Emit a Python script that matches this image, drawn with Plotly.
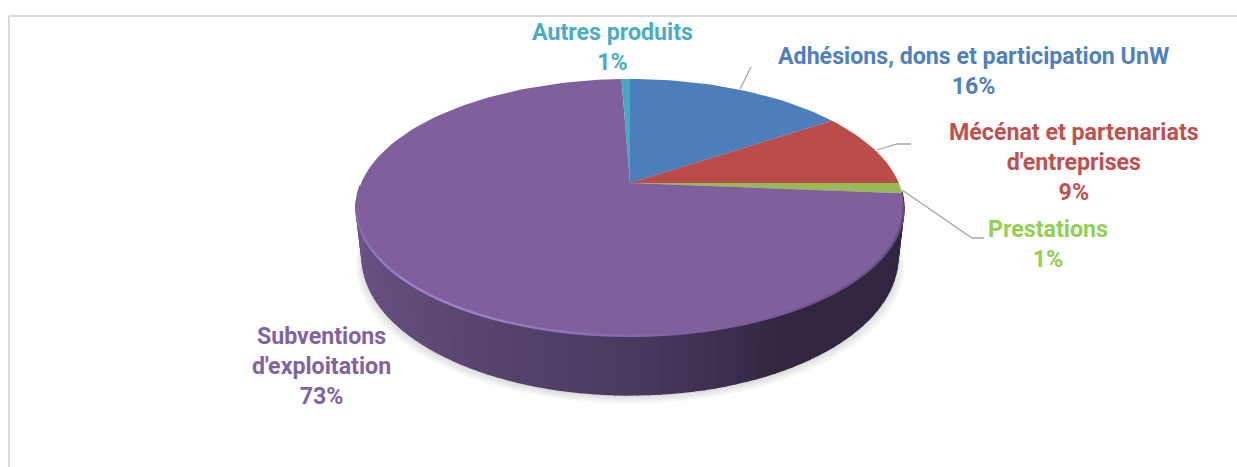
import math
import plotly.graph_objects as go

categories = ["Adhésions, dons et participation UnW", "Mécénat et partenariats d'entreprises",
              "Prestations", "Subventions d'exploitation", "Autres produits"]
values = [15.6, 9.4, 1.3, 73.1, 0.6]
top_colors = ["#4c7ebb", "#bb4c4a", "#98b954", "#7f609d", "#46aac4"]
label_colors = ["#4f81bd", "#c0504d", "#92d050", "#8064a2", "#4bacc6"]
label_lines = [["Adhésions, dons et participation UnW", "16%"],
               ["Mécénat et partenariats", "d'entreprises", "9%"],
               ["Prestations", "1%"],
               ["Subventions", "d'exploitation", "73%"],
               ["Autres produits", "1%"]]
label_pos = [(973, 71), (1074, 162), (1048, 244), (321, 366), (612, 47)]

W, H = 1237, 467
CX, CY = 630, 183
A, B, K = 268.8, 123.8, 0.19
D = 47.8
BOTTOM_SCALE = 0.978


def project(theta_deg):
    t = math.radians(theta_deg)
    u, v = math.sin(t), math.cos(t)
    w = 1 + K * v
    return CX + A * u / w, CY - B * v / w, w


def bottom(theta_deg):
    x, y, w = project(theta_deg)
    return CX + (x - CX) * BOTTOM_SCALE, y + D / w


def hexrgb(c):
    return tuple(int(c[i:i + 2], 16) for i in (1, 3, 5))


def mix(c1, c2, f):
    return "rgb(%d,%d,%d)" % tuple(a + (b - a) * f for a, b in zip(c1, c2))


def wall_color(theta):
    stops = [(90, (50, 38, 64)), (150, (50, 38, 64)), (180, (74, 58, 96)),
             (225, (96, 76, 120)), (270, (110, 86, 140)), (285, (110, 86, 140))]
    theta = max(90, min(285, theta))
    for (a, ca), (b, cb) in zip(stops, stops[1:]):
        if a <= theta <= b:
            return mix(ca, cb, (theta - a) / (b - a))
    return mix(stops[-1][1], stops[-1][1], 0)


fig = go.Figure()


def poly(xs, ys, color):
    fig.add_trace(go.Scatter(x=xs, y=ys, mode="lines", fill="toself", fillcolor=color,
                             line=dict(width=0), hoverinfo="skip", showlegend=False))


# soft shadow beneath the pie
for i in range(6):
    spread = 1.0 + i * 0.005
    off = 2 + i * 1.4
    pts = [bottom(a) for a in range(0, 361, 3)]
    poly([CX + (p[0] - CX) * spread for p in pts], [p[1] + off for p in pts], "rgba(0,0,0,0.025)")

# wall strips, then top wedges, all derived from values
edges = [0.0]
for val in values:
    edges.append(edges[-1] + val / sum(values) * 360)

STEP = 2
for i, val in enumerate(values):
    a0, a1 = edges[i], edges[i + 1]
    a = a0
    while a < a1:
        b = min(a + STEP, a1)
        if 94 <= (a + b) / 2 <= 268:
            p0, p1 = project(a), project(b)
            q0, q1 = bottom(a), bottom(b)
            c = wall_color((a + b) / 2)
            fig.add_trace(go.Scatter(x=[p0[0], p1[0], q1[0], q0[0], p0[0]],
                                     y=[p0[1], p1[1], q1[1], q0[1], p0[1]],
                                     mode="lines", fill="toself", fillcolor=c,
                                     line=dict(width=1.6, color=c), hoverinfo="skip", showlegend=False))
        a = b

for i, val in enumerate(values):
    a0, a1 = edges[i], edges[i + 1]
    n = max(2, int((a1 - a0) / 2))
    pts = [project(a0 + (a1 - a0) * j / n) for j in range(n + 1)]
    poly([CX] + [p[0] for p in pts] + [CX], [CY] + [p[1] for p in pts] + [CY], top_colors[i])

# bevel on the rim of the top face
RIM_BRIGHT = (158, 128, 205)
RIM_DARK = (96, 74, 124)
RIM_BASE = hexrgb("#7f609d")
for a in range(100, 262, 3):
    p0, p1 = project(a), project(a + 3)
    if a >= 165:
        f = 1 - abs(a - 215) / 48
        c = mix(RIM_BASE, RIM_BRIGHT, max(0, min(1, f * 1.3)))
    else:
        c = mix(RIM_DARK, RIM_BASE, max(0, (a - 100) / 65))
    fig.add_trace(go.Scatter(x=[p0[0], p1[0]], y=[p0[1], p1[1]], mode="lines",
                             line=dict(width=2.4, color=c), hoverinfo="skip", showlegend=False))

# frame and leader lines
shapes = [
    dict(type="line", x0=9, y0=16, x1=W, y1=16, line=dict(color="#d9d9d9", width=2)),
    dict(type="line", x0=9, y0=16, x1=9, y1=H, line=dict(color="#d9d9d9", width=2)),
    dict(type="path", path="M740,89 L751,67", line=dict(color="#a6a6a6", width=1.3)),
    dict(type="path", path="M877,150 L897,144 L911,144", line=dict(color="#a6a6a6", width=1.3)),
    dict(type="path", path="M902,190 L972,238 L984,238", line=dict(color="#a6a6a6", width=1.3)),
]

annotations = [
    dict(x=x, y=y, xref="x", yref="y", showarrow=False, align="center", xanchor="center", yanchor="middle",
         text="<br>".join(lines),
         font=dict(family="Roboto", size=23.2, color=col, weight=700))
    for lines, (x, y), col in zip(label_lines, label_pos, label_colors)
]

fig.update_layout(
    width=W, height=H, margin=dict(l=0, r=0, t=0, b=0),
    paper_bgcolor="white", plot_bgcolor="white", showlegend=False,
    xaxis=dict(range=[0, W], visible=False, fixedrange=True),
    yaxis=dict(range=[H, 0], visible=False, fixedrange=True),
    shapes=shapes, annotations=annotations,
)
fig.write_html("out.html", config={"displayModeBar": False},
               post_script="document.body.style.margin='0';document.documentElement.style.overflow='hidden';")
